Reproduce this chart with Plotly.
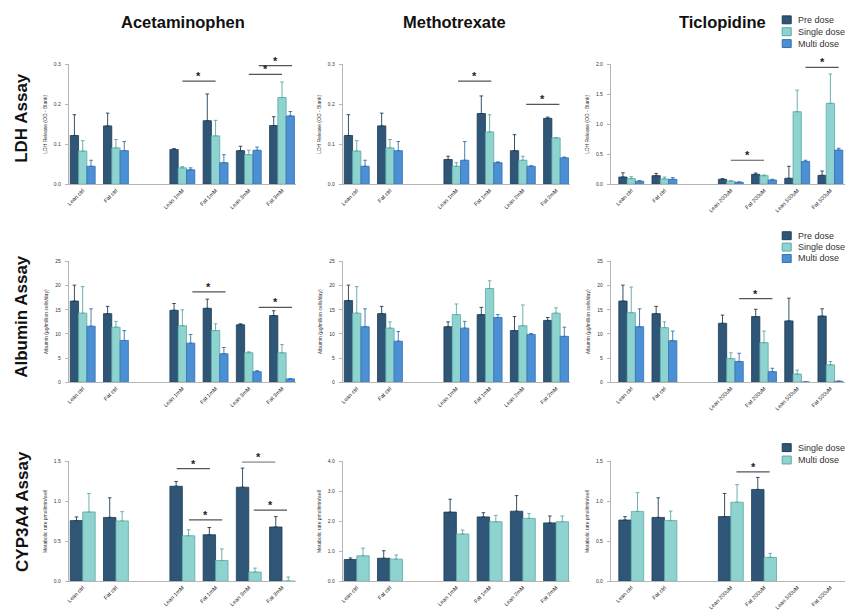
import plotly.graph_objects as go

W, H = 847, 616

# ---------------- data ----------------
drugs = ["Acetaminophen", "Methotrexate", "Ticlopidine"]
assays = ["LDH Assay", "Albumin Assay", "CYP3A4 Assay"]

categories_acet = ["Lean ctrl", "Fat ctrl", "Lean 1mM", "Fat 1mM", "Lean 3mM", "Fat 3mM"]
categories_meth = ["Lean ctrl", "Fat ctrl", "Lean 1mM", "Fat 1mM", "Lean 2mM", "Fat 2mM"]
categories_ticl = ["Lean ctrl", "Fat ctrl", "Lean 200uM", "Fat 200uM", "Lean 500uM", "Fat 500uM"]

# LDH release (OD - Blank)
ldh_acet_pre = [0.122, 0.146, 0.087, 0.159, 0.084, 0.147]
ldh_acet_pre_err = [0.052, 0.032, 0.002, 0.067, 0.011, 0.022]
ldh_acet_single = [0.083, 0.091, 0.041, 0.121, 0.074, 0.217]
ldh_acet_single_err = [0.026, 0.021, 0.003, 0.039, 0.011, 0.039]
ldh_acet_multi = [0.045, 0.084, 0.036, 0.054, 0.085, 0.171]
ldh_acet_multi_err = [0.015, 0.023, 0.005, 0.020, 0.008, 0.011]

ldh_meth_pre = [0.122, 0.146, 0.062, 0.177, 0.084, 0.165]
ldh_meth_pre_err = [0.052, 0.032, 0.008, 0.044, 0.040, 0.003]
ldh_meth_single = [0.083, 0.091, 0.045, 0.131, 0.060, 0.116]
ldh_meth_single_err = [0.026, 0.021, 0.009, 0.043, 0.010, 0.001]
ldh_meth_multi = [0.045, 0.084, 0.060, 0.054, 0.045, 0.066]
ldh_meth_multi_err = [0.015, 0.023, 0.047, 0.002, 0.001, 0.002]

ldh_ticl_pre = [0.120, 0.143, 0.082, 0.165, 0.099, 0.148]
ldh_ticl_pre_err = [0.070, 0.037, 0.011, 0.022, 0.200, 0.072]
ldh_ticl_single = [0.093, 0.088, 0.050, 0.143, 1.21, 1.35]
ldh_ticl_single_err = [0.033, 0.032, 0.010, 0.011, 0.36, 0.49]
ldh_ticl_multi = [0.050, 0.082, 0.033, 0.071, 0.38, 0.57]
ldh_ticl_multi_err = [0.010, 0.028, 0.005, 0.011, 0.02, 0.03]

# Albumin
alb_acet_pre = [16.8, 14.2, 14.9, 15.3, 11.9, 13.8]
alb_acet_pre_err = [3.3, 1.5, 1.4, 1.9, 0.2, 1.0]
alb_acet_single = [14.3, 11.4, 11.7, 10.7, 6.1, 6.1]
alb_acet_single_err = [5.5, 1.2, 3.3, 1.4, 0.2, 1.7]
alb_acet_multi = [11.6, 8.65, 8.1, 5.9, 2.2, 0.7]
alb_acet_multi_err = [3.6, 2.05, 1.8, 1.3, 0.2, 0.05]

alb_meth_pre = [16.9, 14.2, 11.5, 14.0, 10.7, 12.8]
alb_meth_pre_err = [3.2, 1.5, 1.0, 1.5, 2.9, 0.6]
alb_meth_single = [14.3, 11.2, 14.0, 19.4, 11.7, 14.3]
alb_meth_single_err = [5.5, 1.3, 2.2, 1.6, 4.3, 1.1]
alb_meth_multi = [11.5, 8.5, 11.2, 13.4, 9.9, 9.5]
alb_meth_multi_err = [3.7, 2.0, 1.4, 0.6, 0.2, 1.9]

alb_ticl_pre = [16.8, 14.2, 12.2, 13.6, 12.7, 13.7]
alb_ticl_pre_err = [3.3, 1.5, 1.7, 1.5, 4.7, 1.5]
alb_ticl_single = [14.4, 11.3, 4.9, 8.2, 1.7, 3.6]
alb_ticl_single_err = [5.3, 1.2, 1.2, 2.4, 0.8, 0.7]
alb_ticl_multi = [11.5, 8.6, 4.3, 2.2, 0.07, 0.2]
alb_ticl_multi_err = [3.7, 2.0, 1.7, 0.7, 0.03, 0.05]

# CYP3A4 metabolic rate
cyp_acet_single = [0.760, 0.800, 1.190, 0.583, 1.178, 0.680]
cyp_acet_single_err = [0.046, 0.245, 0.060, 0.091, 0.239, 0.130]
cyp_acet_multi = [0.868, 0.756, 0.570, 0.260, 0.116, 0.004]
cyp_acet_multi_err = [0.232, 0.116, 0.075, 0.145, 0.049, 0.050]

cyp_meth_single = [0.727, 0.770, 2.31, 2.15, 2.34, 1.95]
cyp_meth_single_err = [0.053, 0.25, 0.43, 0.14, 0.52, 0.23]
cyp_meth_multi = [0.850, 0.740, 1.58, 1.99, 2.10, 1.99]
cyp_meth_multi_err = [0.26, 0.14, 0.13, 0.21, 0.16, 0.19]

cyp_ticl_single = [0.767, 0.800, 0.810, 1.150, None, None]
cyp_ticl_single_err = [0.043, 0.245, 0.290, 0.150, None, None]
cyp_ticl_multi = [0.875, 0.760, 0.990, 0.300, None, None]
cyp_ticl_multi_err = [0.235, 0.120, 0.220, 0.050, None, None]

y_titles = ["LDH Release (OD - Blank)", "Albumin (\u00b5g/million cells/day)",
            "Metabolic rate pmol/min/well"]
y_ranges = [[0.3, 0.3, 2.0], [25, 25, 25], [1.5, 4.0, 1.5]]
y_dticks = [[0.1, 0.1, 0.5], [5, 5, 5], [0.5, 1.0, 0.5]]

# significance bars: (row, col, from-category, to-category, sideways shift, height)
significance = [
    (0, 0, 2, 3, 0.0, 0.258), (0, 0, 4, 5, 0.0, 0.275), (0, 0, 4, 5, 0.3, 0.297),
    (0, 1, 2, 3, 0.05, 0.258), (0, 1, 4, 5, 0.1, 0.200),
    (0, 2, 2, 3, 0.0, 0.40), (0, 2, 4, 5, 0.25, 1.95),
    (1, 0, 2, 3, 0.3, 18.7), (1, 0, 4, 5, 0.3, 15.5),
    (1, 2, 2, 3, 0.25, 17.3),
    (2, 0, 2, 3, -0.17, 1.41), (2, 0, 2, 3, 0.2, 0.77),
    (2, 0, 4, 5, -0.2, 1.495), (2, 0, 4, 5, 0.15, 0.89),
    (2, 2, 2, 3, 0.17, 1.37),
]

# ---------------- style ----------------
C_PRE, C_PRE_L = "#2f5676", "#203d55"
C_SGL, C_SGL_L = "#8ed3cf", "#5aa9a4"
C_MUL, C_MUL_L = "#4b8fd5", "#3570ad"
FONT = "Arial, Liberation Sans, sans-serif"

col_px = [(66, 294), (341, 569), (610, 845)]
col_xmin = [-0.42, -0.42, -0.615]
col_xmax = [6.42, 6.42, 6.44]
row_px = [(62, 183), (261, 383), (463, 584)]

cats = [categories_acet, categories_meth, categories_ticl]
panels = {
    (0, 0): [("Pre dose", ldh_acet_pre, ldh_acet_pre_err, C_PRE, C_PRE_L),
             ("Single dose", ldh_acet_single, ldh_acet_single_err, C_SGL, C_SGL_L),
             ("Multi dose", ldh_acet_multi, ldh_acet_multi_err, C_MUL, C_MUL_L)],
    (0, 1): [("Pre dose", ldh_meth_pre, ldh_meth_pre_err, C_PRE, C_PRE_L),
             ("Single dose", ldh_meth_single, ldh_meth_single_err, C_SGL, C_SGL_L),
             ("Multi dose", ldh_meth_multi, ldh_meth_multi_err, C_MUL, C_MUL_L)],
    (0, 2): [("Pre dose", ldh_ticl_pre, ldh_ticl_pre_err, C_PRE, C_PRE_L),
             ("Single dose", ldh_ticl_single, ldh_ticl_single_err, C_SGL, C_SGL_L),
             ("Multi dose", ldh_ticl_multi, ldh_ticl_multi_err, C_MUL, C_MUL_L)],
    (1, 0): [("Pre dose", alb_acet_pre, alb_acet_pre_err, C_PRE, C_PRE_L),
             ("Single dose", alb_acet_single, alb_acet_single_err, C_SGL, C_SGL_L),
             ("Multi dose", alb_acet_multi, alb_acet_multi_err, C_MUL, C_MUL_L)],
    (1, 1): [("Pre dose", alb_meth_pre, alb_meth_pre_err, C_PRE, C_PRE_L),
             ("Single dose", alb_meth_single, alb_meth_single_err, C_SGL, C_SGL_L),
             ("Multi dose", alb_meth_multi, alb_meth_multi_err, C_MUL, C_MUL_L)],
    (1, 2): [("Pre dose", alb_ticl_pre, alb_ticl_pre_err, C_PRE, C_PRE_L),
             ("Single dose", alb_ticl_single, alb_ticl_single_err, C_SGL, C_SGL_L),
             ("Multi dose", alb_ticl_multi, alb_ticl_multi_err, C_MUL, C_MUL_L)],
    (2, 0): [("Single dose", cyp_acet_single, cyp_acet_single_err, C_PRE, C_PRE_L),
             ("Multi dose", cyp_acet_multi, cyp_acet_multi_err, C_SGL, C_SGL_L)],
    (2, 1): [("Single dose", cyp_meth_single, cyp_meth_single_err, C_PRE, C_PRE_L),
             ("Multi dose", cyp_meth_multi, cyp_meth_multi_err, C_SGL, C_SGL_L)],
    (2, 2): [("Single dose", cyp_ticl_single, cyp_ticl_single_err, C_PRE, C_PRE_L),
             ("Multi dose", cyp_ticl_multi, cyp_ticl_multi_err, C_SGL, C_SGL_L)],
}


def px_x(p):
    return p / W


def px_y(p):
    return 1 - p / H


# category slot: the two controls, a blank slot, then the dose groups
def slot(i):
    return i if i < 2 else i + 1


fig = go.Figure()
layout = dict(
    width=W, height=H, margin=dict(l=0, r=0, t=0, b=0),
    paper_bgcolor="white", plot_bgcolor="white",
    barmode="group", bargap=0.25, bargroupgap=0.0,
    showlegend=False, font=dict(family=FONT, color="#333"),
)
shapes, annotations = [], []

for r in range(3):
    for c in range(3):
        k = r * 3 + c + 1
        xn = "x" if k == 1 else f"x{k}"
        yn = "y" if k == 1 else f"y{k}"
        labels = cats[c]
        xs = [slot(i) for i in range(len(labels))]
        for name, vals, errs, col, lcol in panels[(r, c)]:
            fig.add_trace(go.Bar(
                x=xs, y=vals, name=name, xaxis=xn, yaxis=yn,
                marker=dict(color=col, line=dict(color=lcol, width=0.8)),
                error_y=dict(type="data", symmetric=False, array=errs,
                             arrayminus=[0 if e is not None else None for e in errs],
                             color=lcol, thickness=0.9, width=1.8),
                hovertemplate="%{y}<extra>" + name + "</extra>",
            ))
        x0, x1 = col_px[c]
        y0, y1 = row_px[r]
        layout["xaxis" if k == 1 else f"xaxis{k}"] = dict(
            domain=[px_x(x0), px_x(x1)], anchor=yn,
            range=[col_xmin[c], col_xmax[c]],
            tickmode="array", tickvals=xs, ticktext=labels, tickangle=-45,
            tickfont=dict(size=5.5, color="#222", family=FONT),
            showline=True, linecolor="#b5b5b5", linewidth=1,
            ticks="", showgrid=False, zeroline=False, fixedrange=True,
        )
        layout["yaxis" if k == 1 else f"yaxis{k}"] = dict(
            domain=[px_y(y1), px_y(y0)], anchor=xn,
            range=[0, y_ranges[r][c]], dtick=y_dticks[r][c], tick0=0,
            tickformat=("d" if r == 1 else ".1f"),
            tickfont=dict(size=5, color="#333", family=FONT),
            ticks="outside", ticklen=3, tickcolor="#b5b5b5", tickwidth=0.8,
            ticklabelstandoff=3,
            showline=True, linecolor="#b5b5b5", linewidth=1,
            showgrid=False, zeroline=False, fixedrange=True,
            title=dict(text=y_titles[r], font=dict(size=5, color="#333", family=FONT),
                       standoff=6),
        )

# significance markers
for r, c, i0, i1, sh, h in significance:
    k = r * 3 + c + 1
    xn = "x" if k == 1 else f"x{k}"
    yn = "y" if k == 1 else f"y{k}"
    xa, xb = slot(i0) + sh, slot(i1) + sh
    shapes.append(dict(type="line", xref=xn, yref=yn, x0=xa, x1=xb, y0=h, y1=h,
                       line=dict(color="#555", width=1.2)))
    annotations.append(dict(xref=xn, yref=yn, x=(xa + xb) / 2, y=h, text="<b>*</b>",
                            showarrow=False, yanchor="bottom", yshift=-3,
                            font=dict(size=11, color="#222", family=FONT)))

# column titles
for c, (name, cx) in enumerate(zip(drugs, [181, 453, 722])):
    annotations.append(dict(xref="paper", yref="paper", x=px_x(cx), y=px_y(19),
                            text=f"<b>{name}</b>", showarrow=False,
                            xanchor="center", yanchor="middle",
                            font=dict(size=16.5, color="#111", family=FONT)))

# row titles
for name, cy in zip(assays, [116, 316, 513]):
    annotations.append(dict(xref="paper", yref="paper", x=px_x(19), y=px_y(cy),
                            text=f"<b>{name}</b>", showarrow=False, textangle=-90,
                            xanchor="center", yanchor="middle",
                            font=dict(size=17, color="#111", family=FONT)))

# legends
legend_sets = [
    ([("Pre dose", C_PRE, C_PRE_L), ("Single dose", C_SGL, C_SGL_L), ("Multi dose", C_MUL, C_MUL_L)],
     [17, 29, 41]),
    ([("Pre dose", C_PRE, C_PRE_L), ("Single dose", C_SGL, C_SGL_L), ("Multi dose", C_MUL, C_MUL_L)],
     [235, 246.5, 258]),
    ([("Single dose", C_PRE, C_PRE_L), ("Multi dose", C_SGL, C_SGL_L)],
     [449, 461.5]),
]
for items, ys in legend_sets:
    for (label, col, lcol), yc in zip(items, ys):
        shapes.append(dict(type="rect", xref="paper", yref="paper",
                           x0=px_x(782), x1=px_x(791), y0=px_y(yc + 4), y1=px_y(yc - 4),
                           fillcolor=col, line=dict(color=lcol, width=1)))
        annotations.append(dict(xref="paper", yref="paper", x=px_x(796), y=px_y(yc),
                                text=label, showarrow=False, xanchor="left", yanchor="middle",
                                font=dict(size=9, color="#333", family=FONT)))

layout["shapes"] = shapes
layout["annotations"] = annotations
fig.update_layout(**layout)
fig.write_html("out.html",
               config={"displayModeBar": False},
               post_script="document.body.style.margin='0px';"
                           "document.body.style.overflow='hidden';")
